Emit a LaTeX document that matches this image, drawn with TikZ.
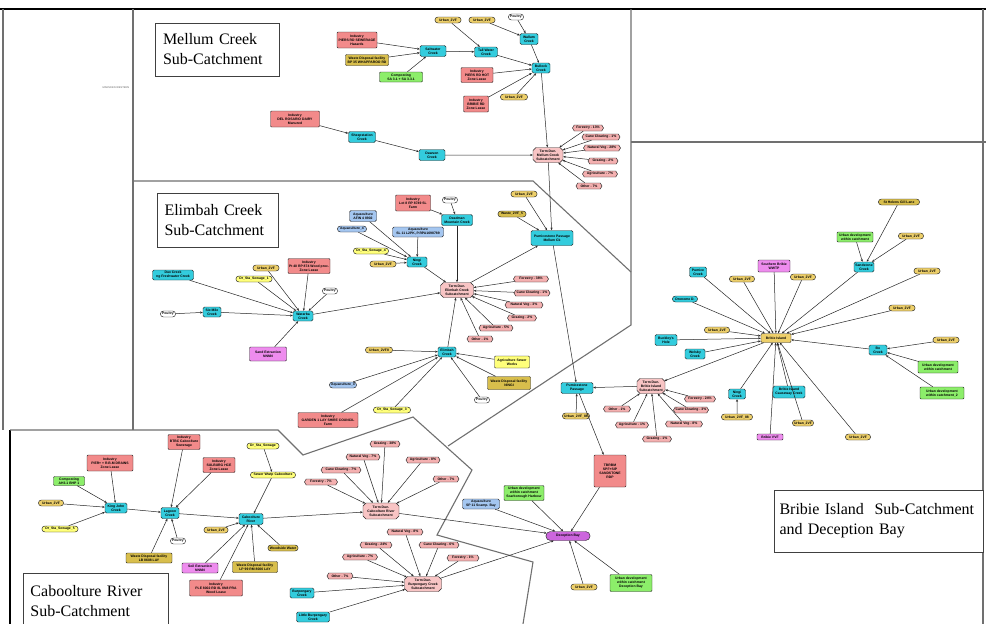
\documentclass[tikz,border=0pt]{standalone}
\usepackage{fontspec}
\setmainfont{Liberation Serif}
\newfontfamily\lsans{Liberation Sans}
\usetikzlibrary{shapes.misc,shapes.symbols,arrows.meta}
\definecolor{cyc}{HTML}{33CCDD}
\definecolor{salm}{HTML}{F28A8A}
\definecolor{hexc}{HTML}{F4B0B0}
\definecolor{termc}{HTML}{F8C4C4}
\definecolor{khak}{HTML}{EDCF6A}
\definecolor{yel}{HTML}{FFFF7A}
\definecolor{grn}{HTML}{8CEE6A}
\definecolor{aqu}{HTML}{A4C6F0}
\definecolor{vio}{HTML}{EE8CEE}
\definecolor{purp}{HTML}{CC66DD}
\definecolor{olv}{HTML}{D8BE4C}
\definecolor{regl}{HTML}{707070}
\newcommand\tinyf{\lsans\bfseries\fontsize{3.4}{4.0}\selectfont}
\newcommand\mynode[6]{\node[#1,minimum width=#4,minimum height=#5] (#2) at (#3) {#6};}
\begin{document}
\begin{tikzpicture}[x=1pt,y=-1pt,
  base/.style={font=\tinyf, align=center, inner sep=0.4pt, line width=0.45pt, draw=black!85, text=black},
  creek/.style={base, fill=cyc, rounded corners=1.5pt},
  ind/.style={base, fill=salm, rounded corners=1pt},
  hex/.style={base, fill=hexc, signal, signal to=east and west, signal pointer angle=120},
  term/.style={base, fill=termc, chamfered rectangle, chamfered rectangle xsep=1.5pt, chamfered rectangle ysep=1.5pt},
  urb/.style={base, fill=khak, rounded rectangle},
  sew/.style={base, fill=yel, rounded rectangle},
  poul/.style={base, fill=white, rounded rectangle},
  grnb/.style={base, fill=grn, rounded corners=1pt},
  aqb/.style={base, fill=aqu, rounded corners=1.5pt},
  aqp/.style={base, fill=aqu, rounded rectangle},
  viob/.style={base, fill=vio, rounded corners=1pt},
  olvr/.style={base, fill=olv, rounded corners=1pt},
  olvp/.style={base, fill=olv, rounded rectangle},
  cyp/.style={base, fill=cyc, rounded rectangle},
  purpb/.style={base, fill=purp, rounded rectangle},
  yelr/.style={base, fill=yel, rounded corners=1pt},
  khr/.style={base, fill=khak, rounded corners=1pt},
  arr/.style={-{Stealth[length=2.6pt,width=2.2pt]}, line width=0.5pt, draw=black!85},
  regline/.style={draw=regl, line width=1.1pt},
  regbox/.style={draw=black!75, line width=0.6pt, fill=white, font=\fontsize{16}{20}\selectfont, align=left, inner sep=0pt}
]
\useasboundingbox (0,0) rectangle (986,624);
\fill[white] (0,0) rectangle (986,624);

% ---------- frame and region boundaries ----------
\draw[line width=2.6pt] (0,9) -- (986,9);
\draw[regline] (3,9) -- (3,430);
\draw[line width=2.2pt] (10,430) -- (10,624);
\draw[regline] (983,9) -- (983,624);
\draw[regline] (133,9) -- (133,430);
\draw[regline] (133,181) -- (533,181) -- (631,272);
\draw[regline] (631,9) -- (631,325) -- (448,446);
\draw[regline] (631,142) -- (986,142);
\draw[regline] (10,430) -- (278,430) -- (303,455) -- (413,417) -- (472,470) -- (437,535) -- (533,562) -- (523,624);

% ---------- region labels ----------
\node[regbox, minimum width=124, minimum height=53, text width=108] (lblM) at (217,49.5) {Mellum Creek\\Sub-Catchment};
\node[regbox, minimum width=121, minimum height=54, text width=106] (lblE) at (217.5,220) {Elimbah Creek\\Sub-Catchment};
\node[regbox, minimum width=145, minimum height=56, text width=130] (lblC) at (95.5,601) {Caboolture River\\Sub-Catchment};
\node[regbox, minimum width=209, minimum height=62, text width=199] (lblB) at (879,521) {Bribie Island\ \ Sub-Catchment\\and Deception Bay};
\node[font=\lsans\fontsize{2.6}{3}\selectfont, text=black!60] (tiny) at (116,88) {MARSDEN WESTERN};

% ---------- Mellum Creek ----------
\mynode{ind}{mi1}{357,40}{40}{16}{Industry\\PIERS RD SEWERAGE\\Hazards}
\mynode{olvr}{mw1}{367,60}{43}{11}{Waste Disposal facility\\BP 35 WHAPPAROO RD}
\mynode{grnb}{mc1}{401,77}{43}{10}{Composting\\SA 3.1 + SA 3.3.1}
\mynode{creek}{mk1}{433,51}{26}{11}{Saltwater\\Creek}
\mynode{creek}{mk2}{486,52}{23}{10}{Tall Water\\Creek}
\mynode{urb}{mu1}{448,20}{27}{6}{Urban\_2VF}
\mynode{urb}{mu2}{482,20}{27}{6}{Urban\_2VF}
\mynode{poul}{mp1}{516,17}{16}{6}{Poultry}
\mynode{creek}{mk3}{529,39}{18}{11}{Wallum\\Creek}
\mynode{creek}{mk4}{541,68}{18}{10}{Bullock\\Creek}
\mynode{ind}{mi2}{477,75}{32}{15}{Industry\\PIERS RD HOT\\Zone Lease}
\mynode{ind}{mi3}{476,104}{25}{16}{Industry\\BRIBIE RD\\Zone Lease}
\mynode{urb}{mu3}{514,97}{28}{6}{Urban\_2VF}
\mynode{ind}{mi4}{295,119}{49}{16}{Industry\\DEL ROSARIO DAIRY\\Manured}
\mynode{creek}{mk5}{362,137}{27}{11}{Sheepstation\\Creek}
\mynode{creek}{mk6}{432,155}{26}{11}{Dawson\\Creek}
\mynode{term}{mt}{548,155}{30}{15}{Term Dun.\\Mellum Creek\\Subcatchment}
\mynode{hex}{mh1}{588,128}{31}{6}{Forestry - 13\%}
\mynode{hex}{mh2}{601,137}{38}{6}{Cane Clearing - 1\%}
\mynode{hex}{mh3}{602,148}{37}{6}{Natural Veg - 28\%}
\mynode{hex}{mh4}{603,161}{30}{6}{Grazing - 2\%}
\mynode{hex}{mh5}{600,174}{35}{6}{Agriculture - 7\%}
\mynode{hex}{mh6}{589,186}{26}{6}{Other - 7\%}

\foreach \a/\b in {mi1/mk1,mw1/mk1,mc1/mk1,mk1/mk2,mu1/mk2,mu2/mk3,mp1/mk3,mk2/mk4,mk3/mk4,mi2/mk4,mi3/mk4,mu3/mk4,mk4/mt,mi4/mk5,mk5/mk6,mk6/mt,mh1/mt,mh2/mt,mh3/mt,mh4/mt,mh5/mt,mh6/mt}
  \draw[arr] (\a) -- (\b);

% ---------- Elimbah Creek ----------
\mynode{urb}{eu1}{524,194}{27}{6}{Urban\_2VF}
\mynode{olvp}{eo1}{512,214}{29}{6}{Waste\_2VF\_5}
\mynode{creek}{ek1}{552,238}{42}{15}{Pumicestone Passage\\Mellum Ck}
\mynode{ind}{ei1}{413,203}{35}{16}{Industry\\Lot 8 RP 8749 SL\\Farm}
\mynode{poul}{ep1}{450,200}{16}{6}{Poultry}
\mynode{creek}{ek2}{457,220}{31}{11}{Deadman\\Mountain Creek}
\mynode{aqb}{ea1}{363,216}{27}{11}{Aquaculture\\AFIN 4 8902}
\mynode{aqp}{ea2}{352,229}{30}{6}{Aquaculture\_4}
\mynode{aqb}{ea3}{418,232}{51}{10}{Aquaculture\\SL 11 L2PK, P.RPA1698789}
\mynode{sew}{es1}{371,251}{36}{6}{Dr\_Sta\_Sewage\_4}
\mynode{urb}{eu2}{383,264}{27}{6}{Urban\_2VF}
\mynode{creek}{ek3}{417,262}{20}{10}{Ningi\\Creek}
\mynode{term}{et}{457,290}{33}{15}{Term Dun.\\Elimbah Creek\\Subcatchment}
\mynode{hex}{eh1}{531,279}{35}{6}{Forestry - 38\%}
\mynode{hex}{eh2}{532,293}{36}{6}{Cane Clearing - 1\%}
\mynode{hex}{eh3}{524,305}{38}{6}{Natural Veg - 3\%}
\mynode{hex}{eh4}{522,318}{29}{6}{Grazing - 2\%}
\mynode{hex}{eh5}{496,328}{34}{6}{Agriculture - 5\%}
\mynode{hex}{eh6}{480,339}{26}{6}{Other - 1\%}
\mynode{creek}{ek4}{447,352}{18}{10}{Elimbah\\Creek}
\mynode{urb}{eu3}{379,350}{28}{6}{Urban\_2VF8}
\mynode{aqp}{ea4}{343,385}{28}{6}{Aquaculture\_3}
\mynode{ind}{ei2}{328,420}{60}{15}{Industry\\GARDEN 1 LAY SHIRE COUNCIL\\Farm}
\mynode{sew}{es2}{392,410}{38}{6}{Dr\_Sta\_Sewage\_3}
\mynode{poul}{ep2}{482,400}{16}{6}{Poultry}
\mynode{yelr}{ey1}{512,362}{35}{12}{Agriculture Sewer\\Works}
\mynode{olvr}{eo2}{509,383}{43}{13}{Waste Disposal facility\\NINGI}
\mynode{viob}{ev1}{268,354}{37}{14}{Sand Extraction\\NNNN}
\mynode{creek}{ek5}{303,316}{20}{10}{Wararba\\Creek}
\mynode{creek}{ek6}{212,312}{18}{10}{Six Mile\\Creek}
\mynode{poul}{ep3}{168,314}{16}{6}{Poultry}
\mynode{creek}{ek7}{173,275}{41}{10}{Dux Creek\\ng Freshwater Creek}
\mynode{sew}{es3}{254,279}{37}{6}{Dr\_Sta\_Sewage\_1}
\mynode{urb}{eu4}{266,268}{27}{6}{Urban\_2VF}
\mynode{ind}{ei3}{309,266}{42}{15}{Industry\\Pt 40 RP 874 Wood proc.\\Zone Lease}
\mynode{poul}{ep4}{330,291}{16}{6}{Poultry}

\foreach \a/\b in {ei1/ek2,ep1/ek2,ek2/et,ea1/ek3,ea2/ek3,ea3/ek3,es1/ek3,eu2/ek3,ek3/et,et/ek1,eu1/ek1,eo1/ek1,mt/ek1,eh1/et,eh2/et,eh3/et,eh4/et,eh5/et,eh6/et,ek4/et,eu3/ek4,ea4/ek4,ei2/ek4,es2/ek4,ep2/ek4,ey1/ek4,eo2/ek4,ek7/ek5,es3/ek5,eu4/ek5,ei3/ek5,ep4/ek5,ek6/ek5,ep3/ek6,ev1/ek5,ek5/et}
  \draw[arr] (\a) -- (\b);

% ---------- Bribie Island ----------
\mynode{khr}{bc}{776,338}{30}{9}{Bribie Island}
\mynode{creek}{bk1}{698,272}{17}{10}{Pumice\\Creek}
\mynode{urb}{bu1}{742,279}{26}{6}{Urban\_2VF}
\mynode{viob}{bv1}{774,266}{32}{12}{Southern Bribie\\WWTP}
\mynode{urb}{bu2}{803,277}{26}{6}{Urban\_2VF}
\mynode{creek}{bk2}{864,267}{20}{10}{Sandstone\\Creek}
\mynode{grnb}{bg1}{855,237}{36}{10}{Urban development\\within catchment}
\mynode{olvp}{bo1}{899,202}{42}{6}{St Helens Gill Lane}
\mynode{urb}{bu3}{911,236}{26}{6}{Urban\_2VF}
\mynode{urb}{bu4}{927,271}{27}{6}{Urban\_2VF}
\mynode{urb}{bu5}{902,308}{27}{6}{Urban\_2VF}
\mynode{creek}{bk3}{878,350}{18}{10}{Bo\\Creek}
\mynode{urb}{bu6}{946,340}{27}{6}{Urban\_2VF}
\mynode{grnb}{bg2}{938,367}{40}{12}{Urban development\\within catchment}
\mynode{grnb}{bg3}{942,393}{44}{12}{Urban development\\within catchment\_2}
\mynode{urb}{bu7}{858,437}{26}{6}{Urban\_2VF}
\mynode{urb}{bu8}{803,423}{22}{6}{Urban\_2VF}
\mynode{creek}{bk4}{789,392}{32}{12}{Bribie Island\\Causeway Creek}
\mynode{viob}{bv2}{770,437}{26}{6}{Bribie VVF}
\mynode{creek}{bk5}{737,394}{17}{10}{Ningi\\Creek}
\mynode{urb}{bu9}{737,417}{32}{6}{Urban\_2VF\_88}
\mynode{creek}{bk6}{695,354}{20}{10}{Welsby\\Creek}
\mynode{creek}{bk7}{666,340}{22}{11}{Buckley's\\Hole}
\mynode{urb}{bu10}{717,330}{26}{6}{Urban\_2VF}
\mynode{cyp}{bk8}{685,299}{26}{6}{Dronome D.}
\mynode{term}{bt}{651,386}{28}{15}{Term Dun.\\Bribie Island\\Subcatchment}
\mynode{hex}{bh1}{700,399}{31}{6}{Forestry - 24\%}
\mynode{hex}{bh2}{691,410}{35}{6}{Cane Clearing - 3\%}
\mynode{hex}{bh3}{684,424}{37}{6}{Natural Veg - 8\%}
\mynode{hex}{bh4}{657,439}{29}{6}{Grazing - 1\%}
\mynode{hex}{bh5}{632,425}{33}{6}{Agriculture - 1\%}
\mynode{hex}{bh6}{617,409}{27}{6}{Other - 1\%}
\mynode{creek}{bk9}{577,388}{32}{11}{Pumicestone\\Passage}
\mynode{urb}{bu11}{576,416}{28}{6}{Urban\_2VF\_88}
\mynode{ind}{bt2}{610,471}{32}{32}{TBRBM\\SPF+SIP\\SANDSTONE\\RDP}

\foreach \a in {bk1,bu1,bv1,bu2,bk2,bu4,bu5,bk3,bu7,bu8,bk4,bv2,bk5,bk6,bk7,bu10,bk8}
  \draw[arr] (\a) -- (bc);
\foreach \a/\b in {bg1/bk2,bo1/bk2,bu3/bk2,bu6/bk3,bg2/bk3,bg3/bk3,bu9/bk5,bc/bt,bh1/bt,bh2/bt,bh3/bt,bh4/bt,bh5/bt,bh6/bt,bt/bk9,bu11/bk9,ek1/bk9,bk9/bt2}
  \draw[arr] (\a) -- (\b);

% ---------- Deception Bay ----------
\mynode{purpb}{db}{568,536}{45}{9}{Deception Bay}
\mynode{aqb}{da}{481,504}{37}{10}{Aquaculture\\SP 11 Scamp. Bay}
\mynode{grnb}{dg}{524,493}{40}{15}{Urban development\\within catchment\\Scarborough Harbour}
\mynode{urb}{du}{584,587}{27}{6}{Urban\_2VF}
\mynode{grnb}{dg2}{631,583}{42}{17}{Urban development\\within catchment\\Deception Bay}

% ---------- Caboolture River ----------
\mynode{grnb}{cc1}{69,481}{31}{9}{Composting\\AH3.1 BHP 1}
\mynode{ind}{ci1}{110,463}{46}{16}{Industry\\PIER+ + R.B.M DRAINS\\Zone Lease}
\mynode{urb}{cu1}{51,503}{26}{6}{Urban\_2VF}
\mynode{sew}{cs1}{60,529}{37}{6}{Dr\_Sta\_Sewage\_5}
\mynode{creek}{ck1}{116,508}{22}{10}{King John\\Creek}
\mynode{creek}{ck2}{170,513}{18}{11}{Lagoon\\Creek}
\mynode{ind}{ci2}{184,442}{32}{15}{Industry\\BTBC Caboolture\\Sewerage}
\mynode{ind}{ci3}{219,465}{32}{15}{Industry\\SULBURG HCE\\Zone Lease}
\mynode{poul}{cp1}{178,541}{16}{6}{Poultry}
\mynode{olvr}{co1}{149,558}{46}{10}{Waste Disposal facility\\LB 8608 LAY}
\mynode{viob}{cv1}{200,568}{36}{10}{Soil Extraction\\NNNN}
\mynode{ind}{ci4}{216,588}{53}{16}{Industry\\PLE 8002 RD 8L 8N8 PRA\\Wood Lease}
\mynode{sew}{cs2}{263,446}{33}{6}{Dr\_Sta\_Sewage}
\mynode{sew}{cy1}{273,475}{46}{6}{Sewer Wwtp Caboolture}
\mynode{urb}{cu2}{216,530}{25}{6}{Urban\_2VF}
\mynode{creek}{ck3}{251,519}{24}{11}{Caboolture\\River}
\mynode{olvp}{co2}{283,548}{31}{6}{Woodside Water}
\mynode{olvr}{co3}{255,567}{45}{11}{Waste Disposal facility\\LP 99 RM 8006 LAY}
\mynode{term}{ct}{381,511}{36}{16}{Term Dun.\\Caboolture River\\Subcatchment}
\mynode{hex}{ch1}{385,444}{30}{6}{Grazing - 38\%}
\mynode{hex}{ch2}{363,457}{34}{6}{Natural Veg - 7\%}
\mynode{hex}{ch3}{341,470}{40}{6}{Cane Clearing - 7\%}
\mynode{hex}{ch4}{321,482}{33}{6}{Forestry - 7\%}
\mynode{hex}{ch5}{423,460}{34}{6}{Agriculture - 8\%}
\mynode{hex}{ch6}{446,479}{26}{6}{Other - 7\%}
\mynode{term}{pt}{423,584}{37}{15}{Term Dun.\\Burpengary Creek\\Subcatchment}
\mynode{hex}{ph1}{405,532}{36}{6}{Natural Veg - 8\%}
\mynode{hex}{ph2}{439,545}{40}{6}{Cane Clearing - 6\%}
\mynode{hex}{ph3}{463,558}{32}{6}{Forestry - 1\%}
\mynode{hex}{ph4}{376,545}{32}{6}{Grazing - 24\%}
\mynode{hex}{ph5}{360,557}{35}{6}{Agriculture - 7\%}
\mynode{hex}{ph6}{340,576}{26}{6}{Other - 7\%}
\mynode{creek}{pk1}{302,593}{24}{10}{Burpengary\\Creek}
\mynode{creek}{pk2}{313,617}{33}{10}{Little Burpengary\\Creek}

\foreach \a/\b in {cc1/ck1,ci1/ck1,cu1/ck1,cs1/ck1,ck1/ck2,ci2/ck2,ci3/ck2,cp1/ck2,co1/ck2,ck2/ck3,cs2/cy1,cy1/ck3,cu2/ck3,cv1/ck3,ci4/ck3,co3/ck3,co2/ck3,ck3/ct,ch1/ct,ch2/ct,ch3/ct,ch4/ct,ch5/ct,ch6/ct,ph1/pt,ph2/pt,ph3/pt,ph4/pt,ph5/pt,ph6/pt,pk1/pt,pk2/pt,ct/db,pt/db,da/db,dg/db,du/db,dg2/db,bt2/db}
  \draw[arr] (\a) -- (\b);
\end{tikzpicture}
\end{document}
